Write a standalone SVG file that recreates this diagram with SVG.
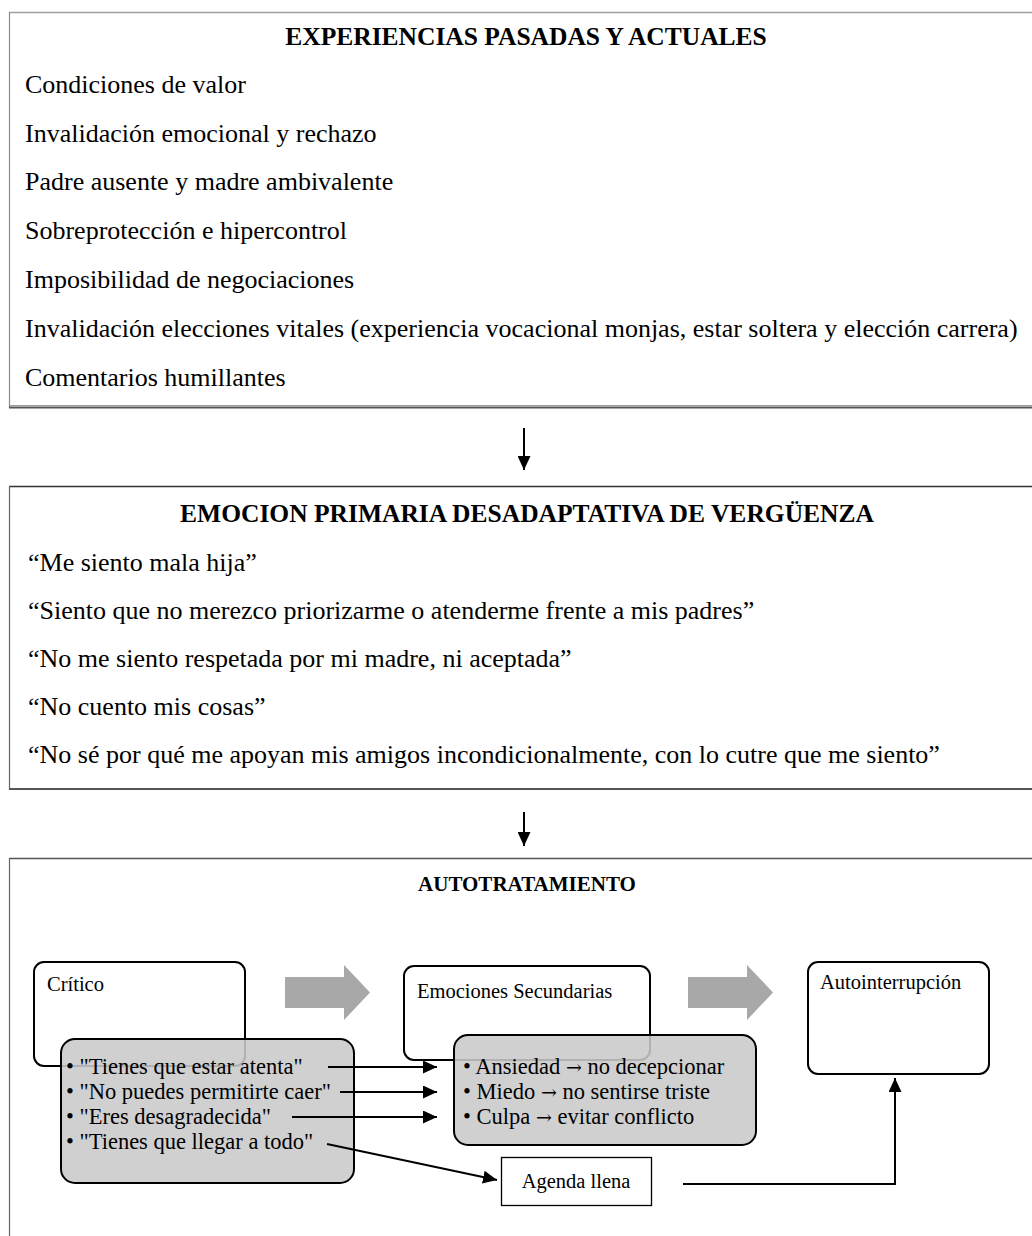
<svg xmlns="http://www.w3.org/2000/svg" width="1032" height="1236" viewBox="0 0 1032 1236">
<style>
text{font-family:"Liberation Serif","Times New Roman",serif;fill:#000}
.big{font-size:26px}
.ttl{font-size:25.5px;font-weight:bold;text-anchor:middle}
.sm{font-size:20.5px}
.it{font-size:22.5px}
.ar{font-family:"DejaVu Serif",serif;font-size:19px}
.rb{fill:#fff;stroke:#000;stroke-width:2}
.gb{fill:#c9c9c9;fill-opacity:0.88;stroke:#000;stroke-width:2}
.blk{fill:#a8a8a8}
.ln{fill:none;stroke:#000;stroke-width:2}
</style>
<defs>
<marker id="ah" markerUnits="userSpaceOnUse" markerWidth="14" markerHeight="13" refX="14" refY="6.5" orient="auto"><path d="M0,0 L14,6.5 L0,13 z" fill="#000"/></marker>
</defs>
<rect width="1032" height="1236" fill="#fff"/>

<g id="experiencias">
<line x1="9.5" y1="12.5" x2="1032" y2="12.5" stroke="#a0a0a0" stroke-width="1.5"/>
<line x1="9.5" y1="12" x2="9.5" y2="408" stroke="#8a8a8a" stroke-width="1.2"/>
<line x1="9" y1="405.5" x2="1032" y2="405.5" stroke="#9a9a9a" stroke-width="1"/>
<line x1="9" y1="407.5" x2="1032" y2="407.5" stroke="#555" stroke-width="2"/>
<text class="ttl" x="526" y="45">EXPERIENCIAS PASADAS Y ACTUALES</text>
<text class="big" x="25" y="93">Condiciones de valor</text>
<text class="big" x="25" y="142">Invalidación emocional y rechazo</text>
<text class="big" x="25" y="190">Padre ausente y madre ambivalente</text>
<text class="big" x="25" y="239">Sobreprotección e hipercontrol</text>
<text class="big" x="25" y="288">Imposibilidad de negociaciones</text>
<text class="big" x="25" y="337">Invalidación elecciones vitales (experiencia vocacional monjas, estar soltera y elección carrera)</text>
<text class="big" x="25" y="386">Comentarios humillantes</text>
</g>

<g id="emocion">
<line x1="9" y1="486.5" x2="1032" y2="486.5" stroke="#333" stroke-width="1.5"/>
<line x1="9.5" y1="486" x2="9.5" y2="790" stroke="#666" stroke-width="1.2"/>
<line x1="9" y1="789" x2="1032" y2="789" stroke="#555" stroke-width="2"/>
<text class="ttl" x="527" y="522">EMOCION PRIMARIA DESADAPTATIVA DE VERGÜENZA</text>
<text class="big" x="28" y="571">“Me siento mala hija”</text>
<text class="big" x="28" y="619">“Siento que no merezco priorizarme o atenderme frente a mis padres”</text>
<text class="big" x="28" y="667">“No me siento respetada por mi madre, ni aceptada”</text>
<text class="big" x="28" y="715">“No cuento mis cosas”</text>
<text class="big" x="28" y="763">“No sé por qué me apoyan mis amigos incondicionalmente, con lo cutre que me siento”</text>
</g>

<g id="autotratamiento">
<line x1="9" y1="858.5" x2="1032" y2="858.5" stroke="#555" stroke-width="1.5"/>
<line x1="9.5" y1="858" x2="9.5" y2="1236" stroke="#666" stroke-width="1.2"/>
<text x="527" y="891" style="font-size:21px;font-weight:bold;text-anchor:middle">AUTOTRATAMIENTO</text>
</g>

<g id="critico">
<rect class="rb" x="34" y="962" width="211" height="104" rx="10"/>
<text class="sm" x="47" y="991">Crítico</text>
</g>
<g id="emociones-secundarias">
<rect class="rb" x="404" y="966" width="246" height="94" rx="10"/>
<text class="sm" x="417" y="998">Emociones Secundarias</text>
</g>
<g id="autointerrupcion">
<rect class="rb" x="808" y="962" width="181" height="112" rx="10"/>
<text class="sm" x="820" y="989">Autointerrupción</text>
</g>
<g id="flecha-bloque-1"><polygon class="blk" points="285,977 344,977 344,965 370,992.5 344,1020 344,1008 285,1008"/></g>
<g id="flecha-bloque-2"><polygon class="blk" points="688,977 747,977 747,965 773,992.5 747,1020 747,1008 688,1008"/></g>

<g id="mensajes-critico">
<rect class="gb" x="61" y="1039" width="293" height="144" rx="14"/>
<text class="it" x="66" y="1074">• "Tienes que estar atenta"</text>
<text class="it" x="66" y="1099">• "No puedes permitirte caer"</text>
<text class="it" x="66" y="1124">• "Eres desagradecida"</text>
<text class="it" x="66" y="1149">• "Tienes que llegar a todo"</text>
</g>
<g id="lista-emociones">
<rect class="gb" x="454" y="1035" width="302" height="110" rx="14"/>
<text class="it" x="463" y="1074">• Ansiedad <tspan class="ar">→</tspan> no decepcionar</text>
<text class="it" x="463" y="1099">• Miedo <tspan class="ar">→</tspan> no sentirse triste</text>
<text class="it" x="463" y="1124">• Culpa <tspan class="ar">→</tspan> evitar conflicto</text>
</g>
<g id="agenda">
<rect x="501.5" y="1157.5" width="150" height="48" fill="#fff" stroke="#000" stroke-width="1.3"/>
<text class="sm" x="576" y="1188" text-anchor="middle">Agenda llena</text>
</g>

<g id="connectors">
<line class="ln" x1="524" y1="428" x2="524" y2="470" marker-end="url(#ah)"/>
<line class="ln" x1="524" y1="812" x2="524" y2="846" marker-end="url(#ah)"/>
<line class="ln" x1="328" y1="1067" x2="437" y2="1067" marker-end="url(#ah)"/>
<line class="ln" x1="340" y1="1092" x2="437" y2="1092" marker-end="url(#ah)"/>
<line class="ln" x1="292" y1="1117" x2="437" y2="1117" marker-end="url(#ah)"/>
<line class="ln" x1="327" y1="1144" x2="497" y2="1180" marker-end="url(#ah)"/>
<path class="ln" d="M683,1184 H895 V1078" marker-end="url(#ah)"/>
</g>
</svg>
